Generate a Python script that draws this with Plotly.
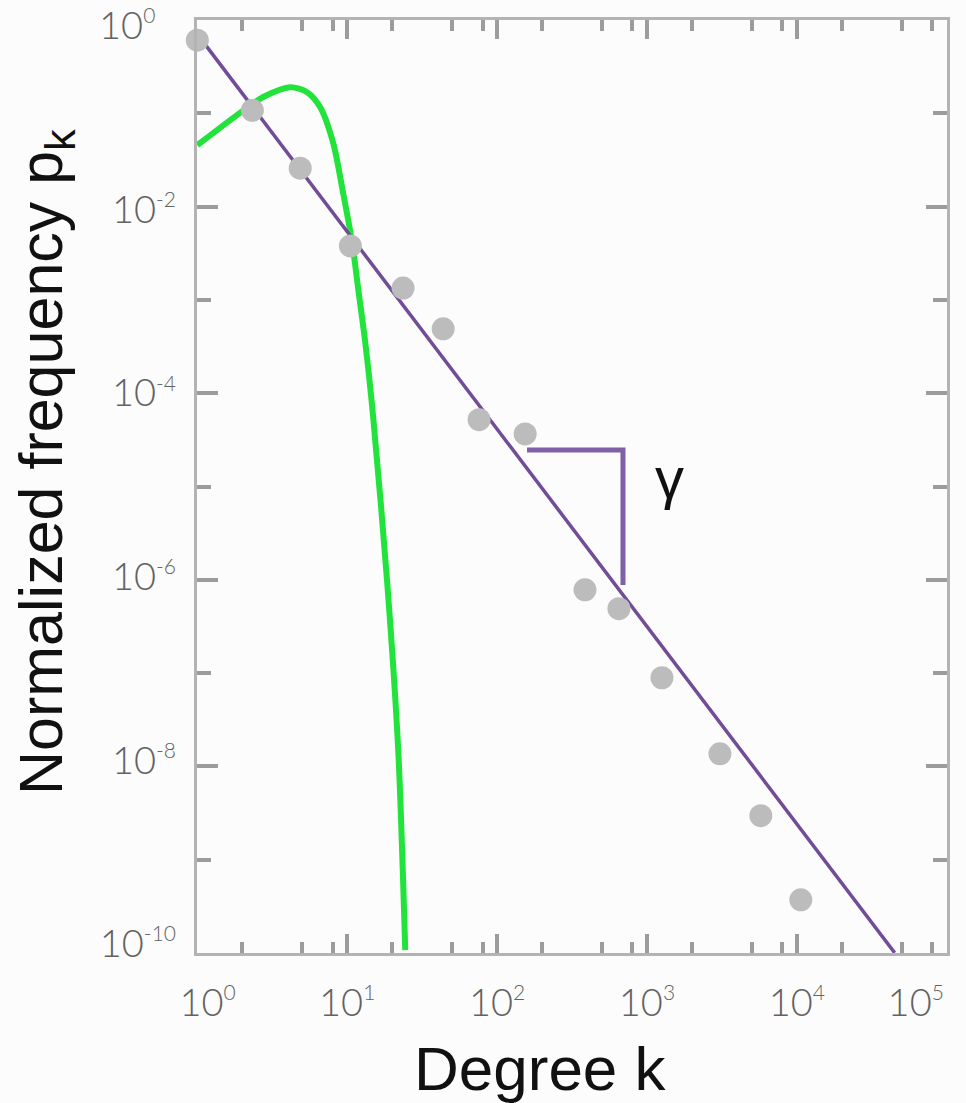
import math
import plotly.graph_objects as go

# ---- data ----
# gray empirical points (degree k, normalized frequency p_k)
dot_k = [1.0, 2.33, 4.86, 10.5, 23.6, 43.7, 75.9, 154, 386, 650, 1259, 3069, 5754, 10630]
dot_p = [0.61, 0.108, 0.0259, 0.0038, 0.00134, 4.9e-4, 5.2e-5, 3.66e-5, 7.8e-7, 4.9e-7,
         8.9e-8, 1.36e-8, 2.95e-9, 3.7e-10]

# purple power-law fit line (end points)
fit_k = [1.0, 44980]
fit_p = [0.708, 1.0e-10]

# green curve (Poisson-like)
green_k = [1.0, 2.03, 2.75, 4.17, 5.4, 6.6, 8.07, 9.4, 10.8, 11.8, 13.2, 14.9, 18.5, 21.9, 24.4]
green_p = [0.0457, 0.108, 0.15, 0.191, 0.169, 0.117, 0.048, 0.014, 0.0041, 0.00138,
           3.5e-4, 5.6e-5, 9.3e-7, 1.5e-8, 1.07e-10]

# slope bracket
bracket_k = [158.5, 692, 692]
bracket_p = [2.46e-5, 2.46e-5, 8.8e-7]
gamma_k, gamma_p = 1423, 1.26e-5

# ticks
NB = "\u00a0"
SUP = '<sup><span style="font-size:21px">{}</span></sup>'
x_major = [1, 10, 100, 1000, 10000, 100000]
x_major_text = ["10" + SUP.format(e) for e in ["0", "1", "2", "3", "4", "5"]]
x_major_text[0] = NB * 2 + x_major_text[0]
x_major_text[-1] = x_major_text[-1] + NB * 6
x_minor = [m * 10 ** d for d in range(5) for m in (2, 5, 8)]
y_major = [1, 1e-2, 1e-4, 1e-6, 1e-8, 1e-10]
y_major_text = ["10" + SUP.format(e) for e in ["0", "-2", "-4", "-6", "-8", "-10"]]
y_major_text[0] = y_major_text[0] + NB * 2
y_minor = [1e-1, 1e-3, 1e-5, 1e-7, 1e-9]

W, H = 966, 1103
L, T, R = 197, 20, 19
PLOT_W, PLOT_H = 750, 933
B = H - T - PLOT_H


def px_to_paper_x(px):
    return (px - L) / PLOT_W


def px_to_paper_y(py):
    return (T + PLOT_H - py) / PLOT_H


fig = go.Figure()

fig.add_trace(go.Scatter(x=green_k, y=green_p, mode="lines",
                         line=dict(color="#22e23c", width=6, shape="spline", smoothing=0.8),
                         hoverinfo="skip", showlegend=False))
fig.add_trace(go.Scatter(x=fit_k, y=fit_p, mode="lines",
                         line=dict(color="#714c97", width=3.5),
                         hoverinfo="skip", showlegend=False))
fig.add_trace(go.Scatter(x=bracket_k, y=bracket_p, mode="lines",
                         line=dict(color="#8060a6", width=5),
                         hoverinfo="skip", showlegend=False))
fig.add_trace(go.Scatter(x=dot_k, y=dot_p, mode="markers",
                         marker=dict(color="#bcbcbc", size=23, line=dict(width=0)),
                         hoverinfo="skip", showlegend=False, cliponaxis=False))
# empty trace so the label-only y axis is drawn
fig.add_trace(go.Scatter(x=[], y=[], yaxis="y2", hoverinfo="skip", showlegend=False))

# annotations on log axes take log10 coordinates
fig.add_annotation(x=math.log10(gamma_k), y=math.log10(gamma_p), xref="x", yref="y",
                   text="γ", showarrow=False,
                   font=dict(family="Liberation Sans", size=58, color="#111"))

fig.add_annotation(x=px_to_paper_x(540), y=px_to_paper_y(1068), xref="paper", yref="paper",
                   text="Degree k", showarrow=False, xanchor="center", yanchor="middle",
                   font=dict(family="Liberation Sans", size=62, color="#111"))
fig.add_annotation(x=px_to_paper_x(45), y=px_to_paper_y(462), xref="paper", yref="paper",
                   text="Normalized frequency p<sub>k</sub>", showarrow=False, textangle=-90,
                   xanchor="center", yanchor="middle",
                   font=dict(family="Liberation Sans", size=61, color="#111"))

tickfont = dict(family="Lato", size=38, color="#626262", weight=300)

fig.update_xaxes(type="log", range=[-0.002, 5.002], showgrid=False, zeroline=False,
                 showline=True, linecolor="#b3b3b3", linewidth=3, mirror="ticks",
                 ticks="inside", tickmode="array", tickvals=x_major, ticktext=x_major_text,
                 ticklen=19, tickwidth=4, tickcolor="#9c9c9c",
                 minor=dict(tickmode="array", tickvals=x_minor, ticks="inside",
                            ticklen=11, tickwidth=4, tickcolor="#9c9c9c", showgrid=False),
                 tickfont=tickfont, ticklabelstandoff=14, ticklabeloverflow="allow")

fig.update_layout(
    yaxis=dict(type="log", range=[-10.002, 0.002], showgrid=False, zeroline=False,
               showline=True, linecolor="#b3b3b3", linewidth=3, mirror="ticks",
               ticks="inside", tickmode="array", tickvals=y_major,
               ticklen=21, tickwidth=4, tickcolor="#9c9c9c", showticklabels=False,
               minor=dict(tickmode="array", tickvals=y_minor, ticks="inside",
                          ticklen=14, tickwidth=4, tickcolor="#9c9c9c", showgrid=False)),
    # label-only axis: the reference's labels sit slightly inside the end ticks
    yaxis2=dict(type="log", range=[-10.098, 0.065], overlaying="y", side="left", anchor="x",
                showgrid=False, zeroline=False, showline=False, ticks="",
                tickmode="array", tickvals=y_major, ticktext=y_major_text,
                tickfont=tickfont, ticklabelstandoff=20, ticklabeloverflow="allow"),
)

fig.update_layout(width=W, height=H, margin=dict(l=L, r=R, t=T, b=B, autoexpand=False),
                  paper_bgcolor="#fcfcfc", plot_bgcolor="#fcfcfc", showlegend=False)

fig.write_html("out.html", config={"displayModeBar": False},
               post_script="document.body.style.margin='0';document.body.style.overflow='hidden';")
